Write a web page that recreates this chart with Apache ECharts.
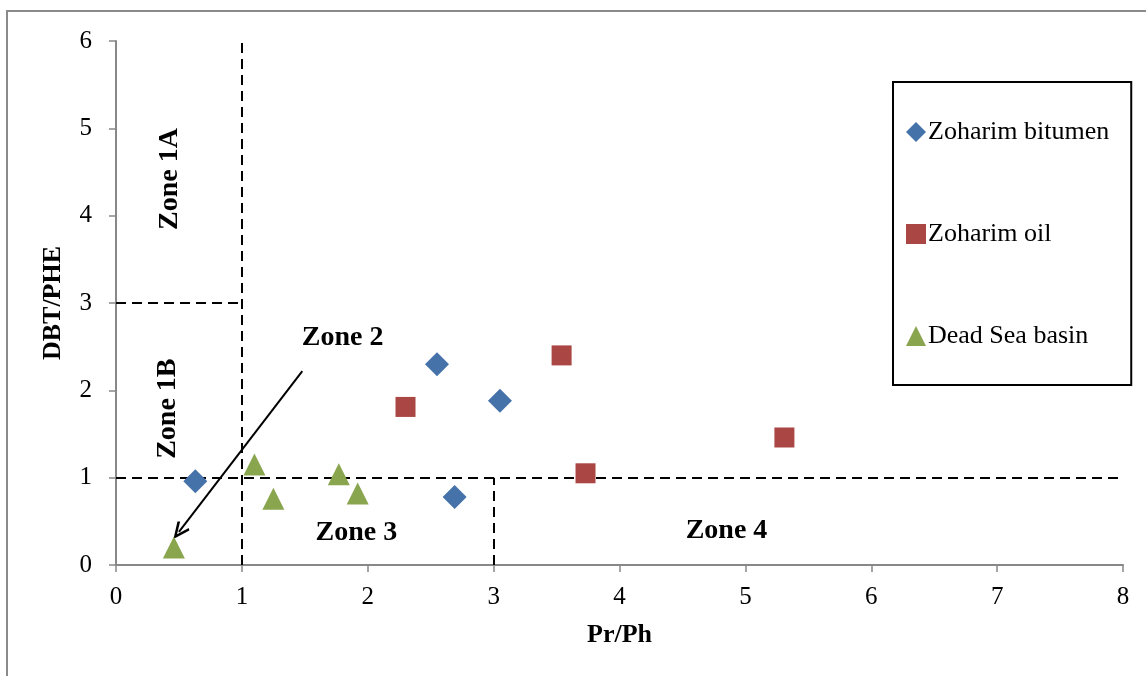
<!DOCTYPE html>
<html>
<head>
<meta charset="utf-8">
<script src="https://cdn.jsdelivr.net/npm/echarts@6/dist/echarts.min.js"></script>
<style>
  html, body { margin: 0; padding: 0; background: #fff; }
  #chart { width: 1146px; height: 676px; }
</style>
</head>
<body>
<div id="chart"></div>
<script>
// Pr/Ph versus DBT/PHE cross-plot
const bitumenX = [0.63, 2.55, 3.05, 2.69];
const bitumenY = [0.96, 2.30, 1.88, 0.78];
const oilX = [2.30, 3.54, 3.73, 5.31];
const oilY = [1.81, 2.40, 1.05, 1.46];
const deadSeaX = [0.46, 1.10, 1.25, 1.77, 1.92];
const deadSeaY = [0.20, 1.15, 0.76, 1.04, 0.82];

const seriesNames = ['Zoharim bitumen', 'Zoharim oil', 'Dead Sea basin'];
const xTicks = [0, 1, 2, 3, 4, 5, 6, 7, 8];
const yTicks = [0, 1, 2, 3, 4, 5, 6];

// Zone labels: [x, y, text, rotated]
const zoneLabels = [
  [0.43, 4.42, 'Zone 1A', true],
  [0.41, 1.79, 'Zone 1B', true],
  [1.80, 2.60, 'Zone 2', false],
  [1.91, 0.37, 'Zone 3', false],
  [4.85, 0.39, 'Zone 4', false]
];

// Dashed zone boundaries: [[x1, y1], [x2, y2]]
const boundaries = [
  [[1, 0], [1, 6]],
  [[0, 3], [1, 3]],
  [[0, 1], [8, 1]],
  [[3, 0], [3, 1]]
];

// Arrow from the "Zone 2" caption down to the sample it points at
const arrowFrom = [1.48, 2.22];
const arrowTo = [0.50, 0.38];

const serif = 'Liberation Serif';
const pair = (xs, ys) => xs.map((x, i) => [x, ys[i]]);

const chart = echarts.init(document.getElementById('chart'), null, { renderer: 'canvas' });

chart.setOption({
  animation: false,
  backgroundColor: '#ffffff',
  graphic: [{
    type: 'rect',
    shape: { x: 7, y: 11, width: 1300, height: 800 },
    style: { fill: 'none', stroke: '#8a8a8a', lineWidth: 2 },
    silent: true
  }],
  grid: { left: 116, right: 23, top: 41, bottom: 111 },
  legend: {
    data: seriesNames,
    orient: 'vertical',
    left: 893,
    top: 82,
    padding: [37, 22, 36, 13],
    itemGap: 76,
    itemWidth: 20,
    itemHeight: 20,
    borderColor: '#000',
    borderWidth: 2,
    textStyle: { fontFamily: serif, fontSize: 26, color: '#000', padding: [0, 0, 0, -3] }
  },
  xAxis: {
    type: 'value',
    min: xTicks[0],
    max: xTicks[xTicks.length - 1],
    interval: 1,
    name: 'Pr/Ph',
    nameLocation: 'middle',
    nameGap: 57,
    nameTextStyle: { fontFamily: serif, fontSize: 26, fontWeight: 'bold', color: '#000' },
    axisLine: { lineStyle: { color: '#888', width: 2 } },
    axisTick: { show: true, length: 7, lineStyle: { color: '#888', width: 1.5 } },
    axisLabel: { fontFamily: serif, fontSize: 25, color: '#000', margin: 20 },
    splitLine: { show: false }
  },
  yAxis: {
    type: 'value',
    min: yTicks[0],
    max: yTicks[yTicks.length - 1],
    interval: 1,
    name: 'DBT/PHE',
    nameLocation: 'middle',
    nameGap: 50,
    nameTextStyle: { fontFamily: serif, fontSize: 26, fontWeight: 'bold', color: '#000' },
    axisLine: { show: true, lineStyle: { color: '#888', width: 2 } },
    axisTick: { show: true, length: 7, lineStyle: { color: '#888', width: 1.5 } },
    axisLabel: { fontFamily: serif, fontSize: 25, color: '#000', margin: 24 },
    splitLine: { show: false }
  },
  series: [
    {
      name: 'zones',
      type: 'scatter',
      symbolSize: 0,
      silent: true,
      z: 1,
      itemStyle: { opacity: 1 },
      data: zoneLabels.map(z => ({
        value: [z[0], z[1]],
        label: {
          show: true,
          position: 'inside',
          formatter: z[2],
          rotate: z[3] ? 90 : 0,
          fontFamily: serif,
          fontSize: 28,
          fontWeight: 'bold',
          color: '#000',
          opacity: 1
        }
      })),
      markLine: {
        silent: true,
        z: 1,
        symbol: ['none', 'none'],
        label: { show: false },
        lineStyle: { color: '#000', width: 2, type: [10, 6], opacity: 1 },
        data: boundaries.map(b => [{ coord: b[0] }, { coord: b[1] }])
      }
    },
    {
      name: 'arrow',
      type: 'scatter',
      data: [],
      silent: true,
      z: 1,
      markLine: {
        silent: true,
        z: 1,
        symbol: ['none', 'path://M5,0 L10,10 L8.6,11 L5,3.6 L1.4,11 L0,10 Z'],
        symbolSize: [15, 18],
        label: { show: false },
        lineStyle: { color: '#000', width: 2, type: 'solid', opacity: 1 },
        data: [[{ coord: arrowFrom }, { coord: arrowTo }]]
      }
    },
    {
      name: seriesNames[0],
      type: 'scatter',
      symbol: 'diamond',
      symbolSize: 24,
      itemStyle: { color: '#4672AA', opacity: 1 },
      z: 6,
      data: pair(bitumenX, bitumenY)
    },
    {
      name: seriesNames[1],
      type: 'scatter',
      symbol: 'rect',
      symbolSize: 20,
      itemStyle: { color: '#AA4643', opacity: 1 },
      z: 6,
      data: pair(oilX, oilY)
    },
    {
      name: seriesNames[2],
      type: 'scatter',
      symbol: 'triangle',
      symbolSize: 22,
      itemStyle: { color: '#89A54E', opacity: 1 },
      z: 6,
      data: pair(deadSeaX, deadSeaY)
    }
  ]
});
</script>
</body>
</html>
